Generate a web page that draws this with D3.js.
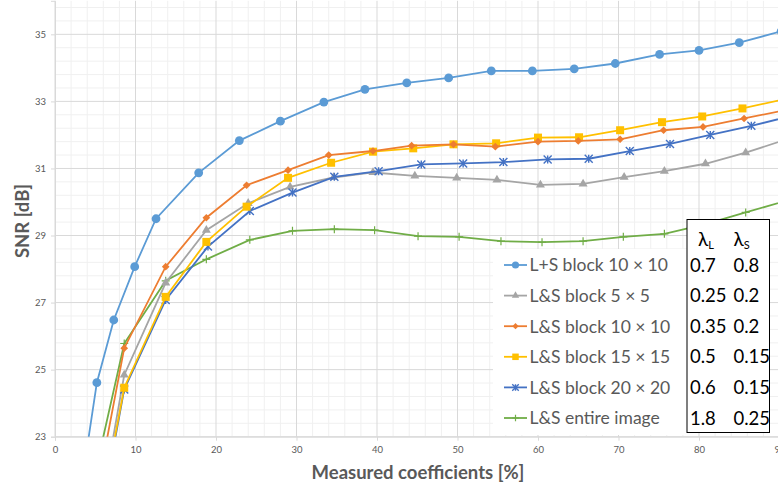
<!DOCTYPE html>
<html>
<head>
<meta charset="utf-8">
<script src="https://cdn.jsdelivr.net/npm/d3@7"></script>
<style>
  html, body { margin: 0; padding: 0; background: #fff; }
  svg { display: block; font-family: Lato, "Liberation Sans", sans-serif; }
</style>
</head>
<body>
<svg id="chart" width="778" height="487"></svg>
<script>
// --- data (x = measured coefficients %, y = SNR dB) ---
const seriesNames = ["L+S block 10 × 10", "L&S block 5 × 5", "L&S block 10 × 10",
  "L&S block 15 × 15", "L&S block 20 × 20", "L&S entire image"];

const lsBlock10X = [3.0, 5.2, 7.3, 9.9, 12.55, 17.85, 22.9, 28.0, 33.4, 38.5, 43.7, 48.9, 54.2, 59.3, 64.5, 69.6, 75.1, 80.0, 85.0, 90.2];
const lsBlock10Y = [21.1, 24.61, 26.48, 28.07, 29.5, 30.87, 31.83, 32.41, 32.98, 33.36, 33.55, 33.7, 33.91, 33.91, 33.97, 34.13, 34.4, 34.52, 34.75, 35.09];

const block5X = [5.0, 8.6, 13.75, 18.8, 24.0, 29.2, 34.6, 39.5, 44.7, 49.9, 54.9, 60.3, 65.6, 70.7, 75.7, 80.8, 85.8, 90.9];
const block5Y = [19.96, 24.84, 27.59, 29.16, 29.96, 30.45, 30.73, 30.88, 30.78, 30.72, 30.66, 30.51, 30.54, 30.74, 30.92, 31.14, 31.47, 31.87];

const block10X = [5.0, 8.6, 13.75, 18.8, 23.8, 28.95, 34.0, 39.5, 44.3, 49.5, 54.7, 60.0, 65.0, 70.2, 75.6, 80.5, 85.6, 90.7];
const block10Y = [21.09, 25.64, 28.07, 29.53, 30.5, 30.95, 31.4, 31.52, 31.68, 31.72, 31.65, 31.8, 31.82, 31.87, 32.14, 32.24, 32.49, 32.74];

const block15X = [5.0, 8.6, 13.75, 18.8, 23.8, 28.95, 34.3, 39.5, 44.5, 49.5, 54.8, 60.0, 65.1, 70.2, 75.4, 80.4, 85.4, 90.7];
const block15Y = [19.88, 24.46, 27.17, 28.81, 29.86, 30.72, 31.17, 31.5, 31.6, 31.72, 31.75, 31.92, 31.93, 32.14, 32.38, 32.55, 32.79, 33.07];

const block20X = [5.0, 8.6, 13.75, 19.0, 24.2, 29.5, 34.7, 40.2, 45.5, 50.7, 55.7, 61.2, 66.3, 71.4, 76.4, 81.4, 86.5, 91.5];
const block20Y = [19.72, 24.41, 27.08, 28.67, 29.73, 30.28, 30.75, 30.92, 31.12, 31.15, 31.19, 31.27, 31.29, 31.52, 31.73, 32.0, 32.27, 32.57];

const entireX = [5.0, 8.6, 13.75, 18.8, 24.2, 29.5, 34.7, 39.7, 45.1, 50.2, 55.4, 60.5, 65.6, 70.6, 75.7, 80.7, 85.8, 90.9];
const entireY = [21.93, 25.78, 27.65, 28.29, 28.87, 29.14, 29.19, 29.16, 28.98, 28.96, 28.83, 28.8, 28.83, 28.96, 29.05, 29.33, 29.69, 30.04];

const lambdaL = ["0.7", "0.25", "0.35", "0.5", "0.6", "1.8"];
const lambdaS = ["0.8", "0.2", "0.2", "0.15", "0.15", "0.25"];

const xTicks = [0, 10, 20, 30, 40, 50, 60, 70, 80, 90];
const yTicks = [23, 25, 27, 29, 31, 33, 35];

// --- styling per series ---
const colors = ["#5B9BD5", "#A5A5A5", "#ED7D31", "#FFC000", "#4472C4", "#70AD47"];
const markers = ["circle", "triangle", "diamond", "square", "asterisk", "plus"];
const xs = [lsBlock10X, block5X, block10X, block15X, block20X, entireX];
const ysv = [lsBlock10Y, block5Y, block10Y, block15Y, block20Y, entireY];
const series = seriesNames.map((name, i) => ({
  name, color: colors[i], marker: markers[i],
  pts: xs[i].map((v, j) => [v, ysv[i][j]])
}));

const W = 778, H = 487;
const pL = 55, pR = 779.5, pT = 0.8, pB = 436.7;
const svg = d3.select("#chart");

const x = d3.scaleLinear().domain([0, 90]).range([pL, pR]);
const y = d3.scaleLinear().domain([23, 36]).range([pB, pT]);

// grid: minor then major
const g = svg.append("g");
const minorY = d3.range(0, 33).map((k) => 23 + k * 0.4).filter((v) => (v - 23) % 2 > 0.01 && (v - 23) % 2 < 1.99);
const minorX = d3.range(0, 92, 2).filter((v) => v % 10 !== 0);
g.selectAll(".my").data(minorY).join("line")
  .attr("x1", pL).attr("x2", pR).attr("y1", (d) => y(d)).attr("y2", (d) => y(d))
  .attr("stroke", "#F0F0F0").attr("stroke-width", 1);
g.selectAll(".mx").data(minorX).join("line")
  .attr("x1", (d) => x(d)).attr("x2", (d) => x(d)).attr("y1", pT).attr("y2", pB)
  .attr("stroke", "#F0F0F0").attr("stroke-width", 1);
g.selectAll(".gy").data(yTicks).join("line")
  .attr("x1", pL).attr("x2", pR).attr("y1", (d) => y(d)).attr("y2", (d) => y(d))
  .attr("stroke", "#D9D9D9").attr("stroke-width", 1);
g.selectAll(".gx").data(xTicks).join("line")
  .attr("x1", (d) => x(d)).attr("x2", (d) => x(d)).attr("y1", pT).attr("y2", pB)
  .attr("stroke", "#D9D9D9").attr("stroke-width", 1);

// axes
const ax = svg.append("g").attr("transform", `translate(0,${pB})`)
  .call(d3.axisBottom(x).tickValues(xTicks).tickSize(4).tickPadding(6));
const ay = svg.append("g").attr("transform", `translate(${pL},0)`)
  .call(d3.axisLeft(y).tickValues(yTicks).tickSize(4).tickPadding(5));
[ax, ay].forEach((a) => {
  a.selectAll("path, line").attr("stroke", "#D9D9D9");
  a.selectAll("text").attr("fill", "#595959").attr("font-size", 9.5)
    .attr("font-family", "Lato, 'Liberation Sans', sans-serif");
});

svg.append("text").attr("x", 418).attr("y", 479)
  .attr("text-anchor", "middle").attr("font-size", 18.5).attr("font-weight", 700)
  .attr("fill", "#595959").text("Measured coefficients [%]");
svg.append("text").attr("transform", "translate(29,221) rotate(-90)")
  .attr("text-anchor", "middle").attr("font-size", 18.5).attr("font-weight", 700)
  .attr("fill", "#595959").text("SNR [dB]");

// clip to plot area
svg.append("clipPath").attr("id", "plot")
  .append("rect").attr("x", pL).attr("y", pT).attr("width", pR - pL).attr("height", pB - pT);

function drawMarker(sel, type, color, s) {
  if (type === "circle") {
    sel.append("circle").attr("r", s * 0.55).attr("fill", color);
  } else if (type === "triangle") {
    sel.append("path").attr("d", d3.symbol(d3.symbolTriangle, s * s * 0.55)).attr("fill", color);
  } else if (type === "diamond") {
    const r = s * 0.48;
    sel.append("path").attr("d", `M0,${-r}L${r},0L0,${r}L${-r},0Z`).attr("fill", color);
  } else if (type === "square") {
    sel.append("rect").attr("x", -s / 2).attr("y", -s / 2).attr("width", s).attr("height", s).attr("fill", color);
  } else if (type === "asterisk") {
    const r = s * 0.5;
    sel.append("path")
      .attr("d", `M${-r},${-r}L${r},${r}M${-r},${r}L${r},${-r}M0,${-r}L0,${r}`)
      .attr("stroke", color).attr("stroke-width", 1.4).attr("fill", "none");
  } else if (type === "plus") {
    const r = s * 0.5;
    sel.append("path").attr("d", `M${-r},0L${r},0M0,${-r}L0,${r}`)
      .attr("stroke", color).attr("stroke-width", 1.2).attr("fill", "none");
  }
}

const line = d3.line().x((d) => x(d[0])).y((d) => y(d[1]));
const plot = svg.append("g").attr("clip-path", "url(#plot)");
// draw in order so the first series ends up on top as in the reference
const order = [5, 1, 4, 3, 2, 0];
order.forEach((i) => {
  const s = series[i];
  plot.append("path").datum(s.pts).attr("d", line)
    .attr("fill", "none").attr("stroke", s.color).attr("stroke-width", 1.8);
  s.pts.forEach((p) => {
    const m = plot.append("g").attr("transform", `translate(${x(p[0])},${y(p[1])})`);
    drawMarker(m, s.marker, s.color, 8);
  });
});

// legend
const lg = svg.append("g");
lg.append("rect").attr("x", 493).attr("y", 249).attr("width", 194).attr("height", 186).attr("fill", "#fff");
const rowY = (i) => 265 + i * 30.6;
series.forEach((s, i) => {
  const cy = rowY(i);
  lg.append("line").attr("x1", 504).attr("x2", 527).attr("y1", cy).attr("y2", cy)
    .attr("stroke", s.color).attr("stroke-width", 1.8);
  const m = lg.append("g").attr("transform", `translate(515.5,${cy})`);
  drawMarker(m, s.marker, s.color, 6.5);
  lg.append("text").attr("x", 529.5).attr("y", cy).attr("dy", "0.36em")
    .attr("font-size", 17.5).attr("fill", "#595959").text(s.name);
});

// lambda table
const tb = svg.append("g");
tb.append("rect").attr("x", 687).attr("y", 219.5).attr("width", 82.5).attr("height", 213)
  .attr("fill", "#fff").attr("stroke", "#000").attr("stroke-width", 1);
const hdr = [["L", 698], ["S", 733.5]];
hdr.forEach(([sub, hx]) => {
  const t = tb.append("text").attr("x", hx).attr("y", 246).attr("font-size", 19).attr("fill", "#000");
  t.append("tspan").text("λ");
  t.append("tspan").attr("font-size", 11).attr("dy", 3).text(sub);
});
lambdaL.forEach((v, i) => {
  tb.append("text").attr("x", 690).attr("y", rowY(i)).attr("dy", "0.36em")
    .attr("font-size", 18.5).attr("fill", "#000").text(v);
  tb.append("text").attr("x", 733.5).attr("y", rowY(i)).attr("dy", "0.36em")
    .attr("font-size", 18.5).attr("fill", "#000").text(lambdaS[i]);
});
</script>
</body>
</html>
